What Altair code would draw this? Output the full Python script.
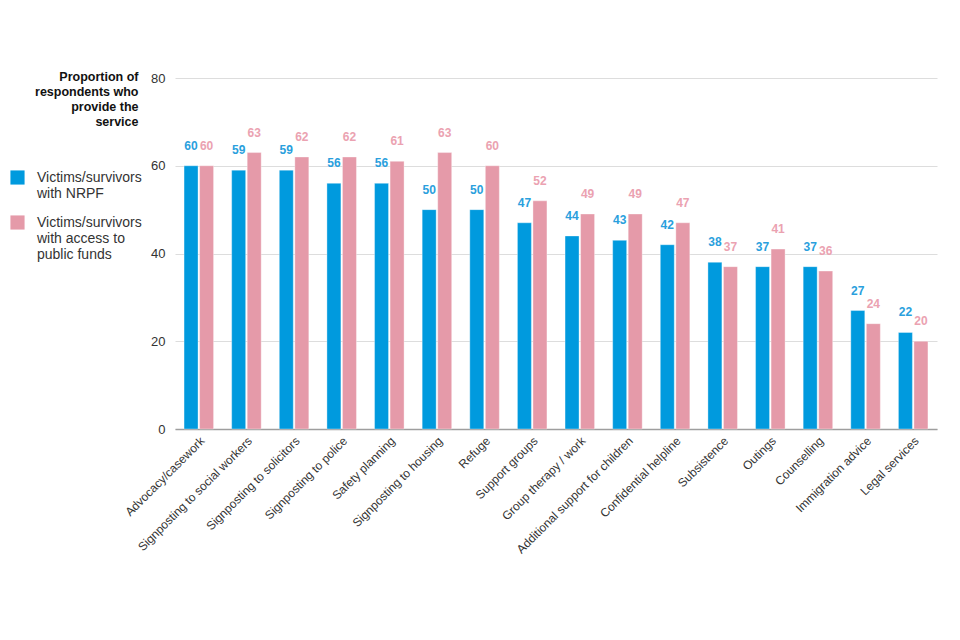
import altair as alt
import pandas as pd

categories = ["Advocacy/casework", "Signposting to social workers", "Signposting to solicitors",
              "Signposting to police", "Safety planning", "Signposting to housing", "Refuge",
              "Support groups", "Group therapy / work", "Additional support for children",
              "Confidential helpline", "Subsistence", "Outings", "Counselling",
              "Immigration advice", "Legal services"]
nrpf = [60, 59, 59, 56, 56, 50, 50, 47, 44, 43, 42, 38, 37, 37, 27, 22]
public = [60, 63, 62, 62, 61, 63, 60, 52, 49, 49, 47, 37, 41, 36, 24, 20]
series = ["Victims/survivors with NRPF", "Victims/survivors with access to public funds"]
bar_colors = ["#009ADE", "#E59AA9"]
text_colors = ["#2A9FDD", "#EBA2B1"]

rows = []
for c, a, b in zip(categories, nrpf, public):
    rows.append({"category": c, "series": series[0], "value": a})
    rows.append({"category": c, "series": series[1], "value": b})
df = pd.DataFrame(rows)

FONT = "Liberation Sans"

x = alt.X("category:N", sort=categories, title=None,
          scale=alt.Scale(paddingInner=0.38, paddingOuter=0.19),
          axis=alt.Axis(labelAngle=-45, labelFontSize=12, labelColor="#333333", ticks=False,
                        grid=False, domainColor="#9E9E9E", domainWidth=1.5, labelPadding=6,
                        labelFont=FONT, labelLimit=300))
xoff = alt.XOffset("series:N", sort=series, scale=alt.Scale(paddingInner=0.1))
y = alt.Y("value:Q", scale=alt.Scale(domain=[0, 80]),
          axis=alt.Axis(values=[0, 20, 40, 60, 80], ticks=False, domain=False,
                        gridColor="#DDDDDD", labelFontSize=13, labelColor="#333333",
                        labelPadding=10, labelFont=FONT,
                        title=["Proportion of", "respondents who", "provide the", "service"],
                        titleAngle=0, titleAlign="right", titleBaseline="top",
                        titleX=-37, titleY=-8, titleFontSize=12.5, titleFontWeight="bold",
                        titleColor="#111111", titleFont=FONT, titleLineHeight=15))

bars = alt.Chart(df).mark_bar(stroke="white", strokeOpacity=0.35, strokeWidth=1).encode(
    x=x, xOffset=xoff, y=y,
    color=alt.Color("series:N", sort=series,
                    scale=alt.Scale(domain=series, range=bar_colors),
                    legend=alt.Legend(title=None, orient="none", legendX=-165, legendY=92,
                                      symbolType="square", symbolSize=200,
                                      symbolStrokeWidth=0, labelFontSize=14, labelColor="#333333",
                                      labelFont=FONT, labelLimit=200, rowPadding=14,
                                      labelExpr="datum.label == 'Victims/survivors with NRPF' ? ['Victims/survivors', 'with NRPF'] : ['Victims/survivors', 'with access to', 'public funds']",
                                      labelOffset=12)),
)

labels = alt.Chart(df).mark_text(dy=-20, fontSize=12, fontWeight="bold", font=FONT).encode(
    x=x, xOffset=xoff, y=y,
    text=alt.Text("value:Q"),
    color=alt.Color("series:N", sort=series,
                    scale=alt.Scale(domain=series, range=text_colors), legend=None),
)

chart = alt.layer(bars, labels).resolve_scale(color="independent").properties(
    width=762, height=351,
    autosize=alt.AutoSizeParams(type="none"),
    padding={"left": 167, "top": 70, "right": 15, "bottom": 160},
    view=alt.ViewBackground(stroke="transparent", strokeOpacity=0),
).configure_view(stroke="transparent", strokeOpacity=0, strokeWidth=0).configure(font=FONT)

chart.save("out.html", embed_options={"renderer": "svg", "actions": False})
